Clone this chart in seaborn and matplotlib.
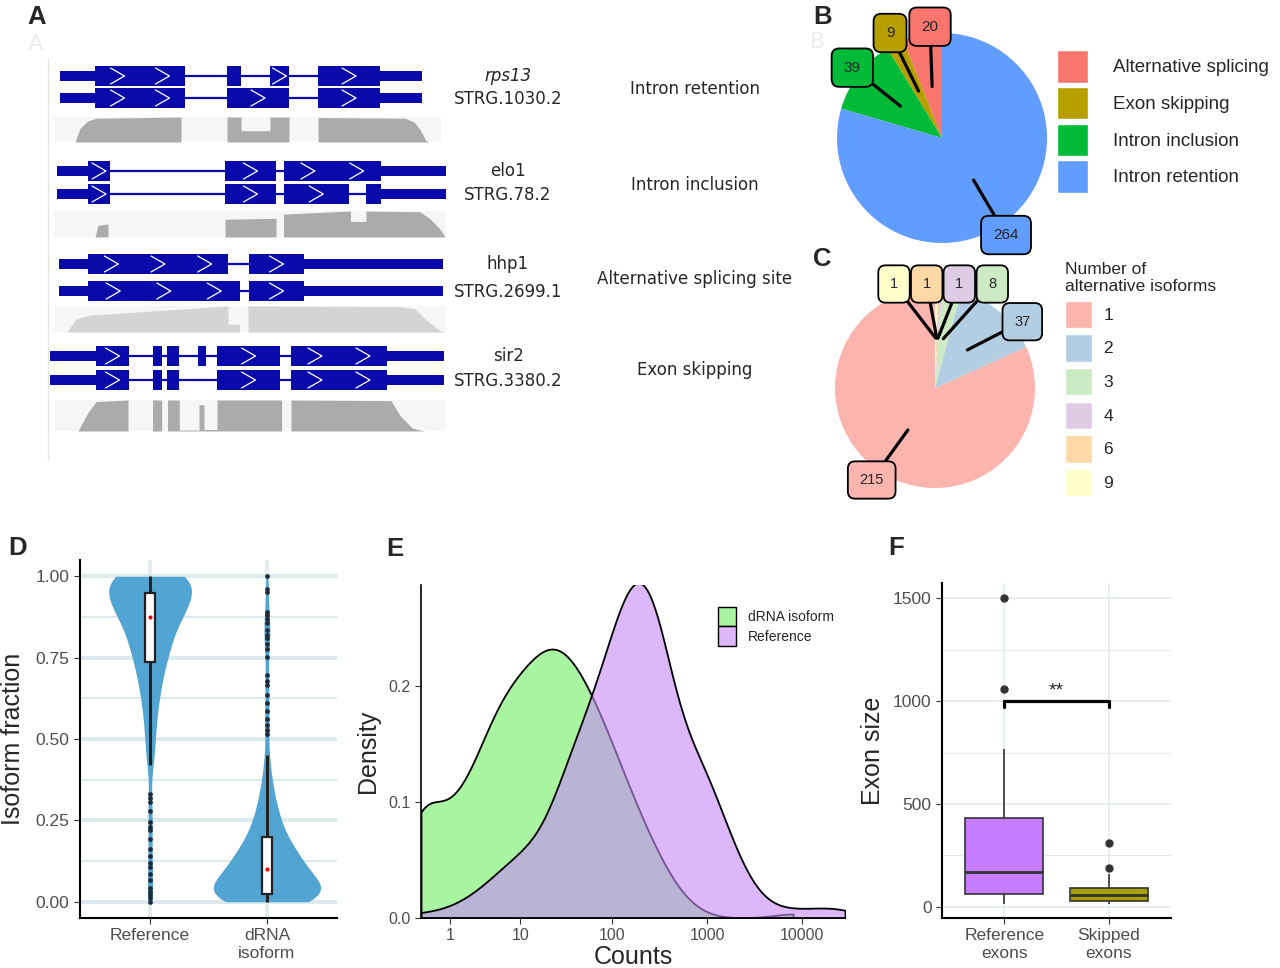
import numpy as np
import pandas as pd
import matplotlib
matplotlib.use("Agg")
import matplotlib.pyplot as plt
from matplotlib.patches import Rectangle, Patch
from matplotlib.ticker import FixedLocator
import seaborn as sns

sns.set_style("ticks")
plt.rcParams["font.family"] = ["Liberation Sans", "DejaVu Sans"]

# ---------------- data ----------------
# A: gene models (genome coordinates as drawn), coverage profiles
genes = ["rps13", "elo1", "hhp1", "sir2"]
transcripts = ["STRG.1030.2", "STRG.78.2", "STRG.2699.1", "STRG.3380.2"]
events_a = ["Intron retention", "Intron inclusion", "Alternative splicing site", "Exon skipping"]
utr_spans = [[(60, 95), (380, 422)], [(57, 88), (381, 446)],
             [(59, 88), (304, 443)], [(50, 96), (387, 444)]]
cds_spans = [
    [[(95, 185), (227, 241), (270, 289), (318, 380)], [(95, 185), (227, 289), (318, 380)]],
    [[(88, 110), (225, 276), (283.5, 381)], [(88, 110), (225, 276), (283.5, 349), (366, 381)]],
    [[(88, 228), (249, 304)], [(88, 239.5), (249, 304)]],
    [[(96, 129), (153, 162), (167, 179), (198, 206), (217, 280), (291, 387)],
     [(96, 129), (153, 162), (167, 179), (217, 280), (291, 387)]],
]
cov_range = [(54, 441), (54, 446), (54, 446), (54, 446)]
cov_x = [
    [75, 80, 88, 96, 181, 181, 227, 227, 241, 241, 270, 270, 289, 289, 318, 318, 405, 414, 420, 426, 429],
    [95, 98, 108, 108, 225, 225, 276, 276, 283.5, 283.5, 350.5, 350.5, 366, 366, 420, 430, 440, 445],
    [67, 76, 90, 228, 228, 239.5, 239.5, 248, 248, 400, 415, 425, 440, 444],
    [78, 88, 96, 128, 128, 152.5, 152.5, 161.7, 161.7, 167.5, 167.5, 179.3, 179.3, 199, 199, 204,
     204, 217, 217, 281.6, 281.6, 291, 291, 391, 400, 412, 421, 425],
]
cov_h = [
    [0, 0.55, 0.85, 0.95, 1.0, 0, 0, 1.0, 1.0, 0.45, 0.45, 1.0, 1.0, 0, 0, 0.98, 0.95, 0.8, 0.5, 0.05, 0],
    [0, 0.45, 0.5, 0, 0, 0.68, 0.72, 0, 0, 0.88, 1.0, 0.6, 0.6, 1.0, 0.97, 0.7, 0.3, 0],
    [0, 0.5, 0.65, 1.0, 0.3, 0.3, 0, 0, 1.0, 0.97, 0.9, 0.5, 0.05, 0],
    [0, 0.6, 0.95, 1.0, 0, 0, 1.0, 1.0, 0, 0, 1.0, 1.0, 0.03, 0.03, 0.85, 0.85,
     0.05, 0.05, 1.0, 1.0, 0, 0, 1.0, 0.98, 0.5, 0.1, 0.02, 0],
]

# B: alternative splicing events
event_types = ["Alternative splicing", "Exon skipping", "Intron inclusion", "Intron retention"]
event_counts = [20, 9, 39, 264]
event_colors = ["#F8766D", "#B79F00", "#00BA38", "#619CFF"]

# C: genes by number of alternative isoforms
n_isoforms = ["1", "2", "3", "4", "6", "9"]
n_isoform_genes = [215, 37, 8, 1, 1, 1]
isoform_colors = ["#FBB4AE", "#B3CDE3", "#CCEBC5", "#DECBE4", "#FED9A6", "#FFFFCC"]

# D: isoform fractions (value levels with number of isoforms + single low/high isoforms)
ref_frac_vals = [0.42, 0.45, 0.5, 0.55, 0.6, 0.65, 0.7, 0.75, 0.8, 0.85, 0.9, 0.95, 1.0]
ref_frac_n = [3, 4, 6, 7, 9, 12, 15, 20, 25, 30, 44, 48, 58]
ref_frac_low = [0.0, 0.01, 0.02, 0.031, 0.041, 0.066, 0.086, 0.107, 0.119, 0.142,
                0.163, 0.193, 0.219, 0.231, 0.244, 0.28, 0.307, 0.32, 0.33]
drna_frac_vals = [0.0, 0.025, 0.05, 0.1, 0.15, 0.2, 0.25, 0.3, 0.35, 0.4, 0.45]
drna_frac_n = [35, 40, 45, 45, 33, 21, 15, 10, 7, 4, 3]
drna_frac_high = [0.514, 0.529, 0.544, 0.56, 0.585, 0.61, 0.636, 0.666, 0.677, 0.697, 0.753, 0.778,
                  0.793, 0.809, 0.819, 0.834, 0.855, 0.87, 0.88, 0.89, 0.951, 0.961, 1.0]

# E: read counts per isoform (count level, number of isoforms)
count_levels = [0, 1, 2, 4, 7, 12, 20, 33, 55, 90, 150, 250, 400, 700, 1100, 1800,
                3000, 5000, 8000, 13000, 20000, 28000]
drna_count_n = [22, 10, 12, 20, 23, 25, 28, 28, 24, 19, 14, 8, 4, 1, 0, 0, 0, 0, 1, 0, 0, 0]
ref_count_n = [1, 1, 2, 4, 6, 8, 9, 19, 23, 30, 42, 42, 27, 20, 15, 9, 3, 1, 1, 1, 1, 1]

# F: exon sizes
ref_exon_size = [16, 30, 45, 55, 65, 90, 120, 150, 170, 210, 260, 330, 434, 520, 769, 1057, 1503]
skipped_exon_size = [16, 22, 25, 29, 40, 50, 60, 70, 80, 92, 162, 189, 311]

# ---------------- figure ----------------
W, H = 1280, 968
fig = plt.figure(figsize=(12.8, 9.68), dpi=100)


def px_axes(l, t, r, b):
    return fig.add_axes([l / W, 1 - b / H, (r - l) / W, (b - t) / H])


def px_text(x, y, s, **kw):
    fig.text(x / W, 1 - y / H, s, **kw)


tick_grey = "#4D4D4D"

# ---- A: gene models ----
gene_blue = "#0A0AAA"
row_y = [76, 171, 264, 356]
row_gap = [22, 23, 27, 24]
cov_off = [41, 40, 42, 44]
cov_hgt = [25, 26, 26, 31]
cov_colors = ["#ABABAB", "#ABABAB", "#D4D4D4", "#ABABAB"]

ax_a = px_axes(0, 0, 800, 470)
ax_a.set_xlim(0, 800)
ax_a.set_ylim(470, 0)
ax_a.axis("off")
ax_a.plot([48, 48], [58, 460], color="#E6E6E6", lw=1)


def chevrons(s, e, y):
    w = e - s
    if w < 18:
        return
    k = max(1, int(w // 45))
    for i in range(k):
        cx = s + (i + 0.5) * w / k
        ax_a.plot([cx - 7, cx + 7, cx - 7], [y - 8, y, y + 8], color="white", lw=0.9)


for i in range(len(genes)):
    rows = [row_y[i], row_y[i] + row_gap[i]]
    for y, cds in zip(rows, cds_spans[i]):
        ax_a.plot([cds[0][0], cds[-1][1]], [y, y], color=gene_blue, lw=1.6, solid_capstyle="butt")
        for s, e in utr_spans[i]:
            ax_a.add_patch(Rectangle((s, y - 5), e - s, 10, color=gene_blue, lw=0))
        for s, e in cds:
            ax_a.add_patch(Rectangle((s, y - 10), e - s, 20, color=gene_blue, lw=0))
            chevrons(s, e, y)
    top = row_y[i] + cov_off[i]
    bot = top + cov_hgt[i]
    ax_a.add_patch(Rectangle((cov_range[i][0], top), cov_range[i][1] - cov_range[i][0], bot - top,
                             color="#F6F6F6", lw=0))
    ax_a.fill_between(cov_x[i], bot, bot - np.array(cov_h[i]) * (bot - top), color=cov_colors[i], lw=0)
    ax_a.text(508, rows[0], genes[i], ha="center", va="center", fontsize=12, family="DejaVu Sans",
              style="italic" if i == 0 else "normal")
    ax_a.text(508, rows[1] + 1, transcripts[i], ha="center", va="center", fontsize=12, family="DejaVu Sans")
    ax_a.text(695, (rows[0] + rows[1]) / 2 + 2, events_a[i], ha="center", va="center", fontsize=12,
              family="DejaVu Sans")


# ---- B and C: pies ----
def label_pie(ax, values, colors, label_pos, fs, pad):
    wedges, _ = ax.pie(values, colors=colors, startangle=90, counterclock=True,
                       wedgeprops=dict(linewidth=0))
    ax.set_xlim(-1.3, 1.3)
    ax.set_ylim(-1.3, 1.3)
    ax.set_aspect("equal")
    ax.axis("off")
    for w, v, pos, col in zip(wedges, values, label_pos, colors):
        ang = np.deg2rad((w.theta1 + w.theta2) / 2)
        ax.annotate(str(v), xy=(0.5 * np.cos(ang), 0.5 * np.sin(ang)), xytext=pos,
                    ha="center", va="center", fontsize=fs, annotation_clip=False,
                    bbox=dict(boxstyle=f"round,pad={pad},rounding_size=0.5", fc=col, ec="black", lw=1.3),
                    arrowprops=dict(arrowstyle="-", color="black", lw=2.3, shrinkA=0, shrinkB=0))
    return wedges


ax_b = px_axes(805.5, 1.5, 1078.5, 274.5)
label_pie(ax_b, event_counts, event_colors,
          [(-0.114, 1.06), (-0.495, 1.0), (-0.854, 0.67), (0.61, -0.924)], 11, 0.8)
fig.legend([Patch(facecolor=c) for c in event_colors], event_types, loc="upper left",
           bbox_to_anchor=(1057 / W, 1 - 50 / H), frameon=False, fontsize=13.5, borderpad=0,
           borderaxespad=0, handlelength=1.65, handleheight=2.3, labelspacing=0.22, handletextpad=1.35)

ax_c = px_axes(805, 258, 1065, 518)
label_pie(ax_c, n_isoform_genes, isoform_colors,
          [(-0.633, -0.92), (0.873, 0.663), (0.573, 1.04), (0.243, 1.04), (-0.083, 1.04), (-0.41, 1.04)],
          10.5, 0.8)
fig.legend([Patch(facecolor=c) for c in isoform_colors], n_isoforms, loc="upper left",
           bbox_to_anchor=(1065 / W, 1 - 262 / H), frameon=False, fontsize=12.5, borderpad=0,
           borderaxespad=0, handlelength=1.55, handleheight=2.05, labelspacing=0.36, handletextpad=0.65,
           title="Number of\nalternative isoforms", title_fontsize=12.5, alignment="left")

# ---- D: violin ----
groups_d = ["Reference", "dRNA isoform"]
ref_frac = np.concatenate([ref_frac_low, np.repeat(ref_frac_vals, ref_frac_n)])
drna_frac = np.concatenate([np.repeat(drna_frac_vals, drna_frac_n), drna_frac_high])
df_d = pd.DataFrame({"group": ["Reference"] * len(ref_frac) + ["dRNA isoform"] * len(drna_frac),
                     "fraction": np.concatenate([ref_frac, drna_frac])})

ax_d = px_axes(80, 560, 337, 918)
sns.violinplot(data=df_d, x="group", y="fraction", order=groups_d, color="#52A5D3", saturation=1,
               inner=None, cut=0, bw_adjust=0.65, width=0.92, linewidth=0, ax=ax_d)
sns.boxplot(data=df_d, x="group", y="fraction", order=groups_d, color="white", saturation=1,
            width=0.085, linecolor="#222222", linewidth=1.6, showcaps=False, fliersize=2.4,
            whiskerprops=dict(linewidth=2.2), medianprops=dict(linewidth=0),
            flierprops=dict(marker="o", markerfacecolor="#1E2A3A", markeredgecolor="#1E2A3A"), ax=ax_d)
meds = df_d.groupby("group")["fraction"].median().reindex(groups_d)
ax_d.scatter(range(len(groups_d)), meds.values, color="#E8000B", s=9, zorder=6, linewidths=0)
ax_d.set_xlim(-0.6, 1.6)
ax_d.set_ylim(-0.05, 1.05)
ax_d.set_yticks([0, 0.25, 0.5, 0.75, 1.0])
ax_d.set_yticklabels(["0.00", "0.25", "0.50", "0.75", "1.00"])
ax_d.yaxis.set_minor_locator(FixedLocator([0.125, 0.375, 0.625, 0.875]))
ax_d.set_xticks([0, 1])
ax_d.set_xticklabels(["Reference", "dRNA\nisoform"])
ax_d.set_axisbelow(True)
ax_d.grid(axis="y", which="major", color="#DCE9ED", lw=2.8)
ax_d.grid(axis="y", which="minor", color="#DCE9ED", lw=1.4)
ax_d.grid(axis="x", which="major", color="#E4ECEF", lw=2.8)
ax_d.set_xlabel("")
ax_d.set_ylabel("Isoform fraction", fontsize=18, labelpad=8)

# ---- E: density of counts ----
green_f = (113 / 255, 238 / 255, 97 / 255, 0.6)
purple_f = (197 / 255, 138 / 255, 247 / 255, 0.6)
df_e = pd.DataFrame({
    "group": ["dRNA isoform"] * sum(drna_count_n) + ["Reference"] * sum(ref_count_n),
    "log_counts": np.log1p(np.concatenate([np.repeat(count_levels, drna_count_n),
                                           np.repeat(count_levels, ref_count_n)])),
})
ax_e = px_axes(421, 585, 845, 918)
for grp, fc in [("dRNA isoform", green_f), ("Reference", purple_f)]:
    sns.kdeplot(data=df_e[df_e["group"] == grp], x="log_counts", fill=True, cut=0, bw_adjust=0.9,
                color=fc[:3], ax=ax_e)
    coll = ax_e.collections[-1]
    coll.set_alpha(None)
    coll.set_facecolor(fc)
    coll.set_edgecolor("black")
    coll.set_linewidth(1.3)
ticks_e = [1, 10, 100, 1000, 10000]
ax_e.set_xticks(np.log1p(ticks_e))
ax_e.set_xticklabels([str(t) for t in ticks_e])
ax_e.set_xlim(0, np.log1p(max(count_levels)))
ax_e.set_ylim(0, 0.287)
ax_e.set_yticks([0, 0.1, 0.2])
ax_e.set_yticklabels(["0.0", "0.1", "0.2"])
ax_e.set_xlabel("Counts", fontsize=18, labelpad=1)
ax_e.set_ylabel("Density", fontsize=18, labelpad=6)
ax_e.legend([Patch(facecolor=green_f, edgecolor="black", lw=1), Patch(facecolor=purple_f, edgecolor="black", lw=1)],
            ["dRNA isoform", "Reference"], loc="upper left", bbox_to_anchor=(0.70, 0.935), frameon=False,
            borderpad=0, borderaxespad=0, handlelength=1.3, handleheight=1.8, labelspacing=0.0,
            handletextpad=0.9, fontsize=10)

# ---- F: exon size boxplot ----
groups_f = ["Reference exons", "Skipped exons"]
df_f = pd.DataFrame({"group": [groups_f[0]] * len(ref_exon_size) + [groups_f[1]] * len(skipped_exon_size),
                     "size": ref_exon_size + skipped_exon_size})
ax_f = px_axes(942, 583, 1171, 918)
sns.boxplot(data=df_f, x="group", y="size", order=groups_f, hue="group", hue_order=groups_f,
            palette=["#C77CFF", "#A89F00"], legend=False, saturation=1, width=0.75,
            linecolor="#333333", linewidth=1.2, showcaps=False, fliersize=5,
            medianprops=dict(linewidth=2.0),
            flierprops=dict(marker="o", markerfacecolor="#333333", markeredgecolor="#333333"), ax=ax_f)
ax_f.set_xlim(-0.6, 1.6)
ax_f.set_ylim(-54, 1574)
ax_f.set_yticks([0, 500, 1000, 1500])
ax_f.yaxis.set_minor_locator(FixedLocator([250, 750, 1250]))
ax_f.set_xticks([0, 1])
ax_f.set_xticklabels(["Reference\nexons", "Skipped\nexons"])
ax_f.set_axisbelow(True)
ax_f.grid(axis="y", which="major", color="#E2EBED", lw=1.1)
ax_f.grid(axis="y", which="minor", color="#E2EBED", lw=0.7)
ax_f.grid(axis="x", which="major", color="#E2EBED", lw=1.1)
ax_f.plot([0, 0, 1, 1], [970, 1000, 1000, 970], color="black", lw=2.3)
ax_f.text(0.5, 1028, "**", ha="center", va="baseline", fontsize=14)
ax_f.set_xlabel("")
ax_f.set_ylabel("Exon size", fontsize=18, labelpad=6)

# shared axis styling
for ax in (ax_d, ax_e, ax_f):
    sns.despine(ax=ax)
    for sp in ("left", "bottom"):
        ax.spines[sp].set_color("black")
    ax.tick_params(which="major", length=4, color="#333333", labelcolor=tick_grey)
    ax.tick_params(which="minor", length=0)
ax_d.tick_params(labelsize=12.5)
ax_f.tick_params(labelsize=12.5)
ax_e.tick_params(labelsize=11.5)
for ax in (ax_d, ax_f):
    for sp in ("left", "bottom"):
        ax.spines[sp].set_linewidth(1.5)
for sp in ("left", "bottom"):
    ax_e.spines[sp].set_linewidth(1.2)

# panel letters
for letter, x, y in [("A", 27, 24), ("B", 813, 24), ("C", 813, 266), ("D", 8, 555), ("E", 386, 556), ("F", 888, 555)]:
    px_text(x, y, letter, fontsize=18.5, fontweight="bold", va="baseline", ha="left")
px_text(28, 50, "A", fontsize=16, color="#EDEDED", va="baseline", family="DejaVu Sans")
px_text(810, 48, "B", fontsize=16, color="#EDEDED", va="baseline", family="DejaVu Sans")

fig.savefig("out.png", dpi=100)
